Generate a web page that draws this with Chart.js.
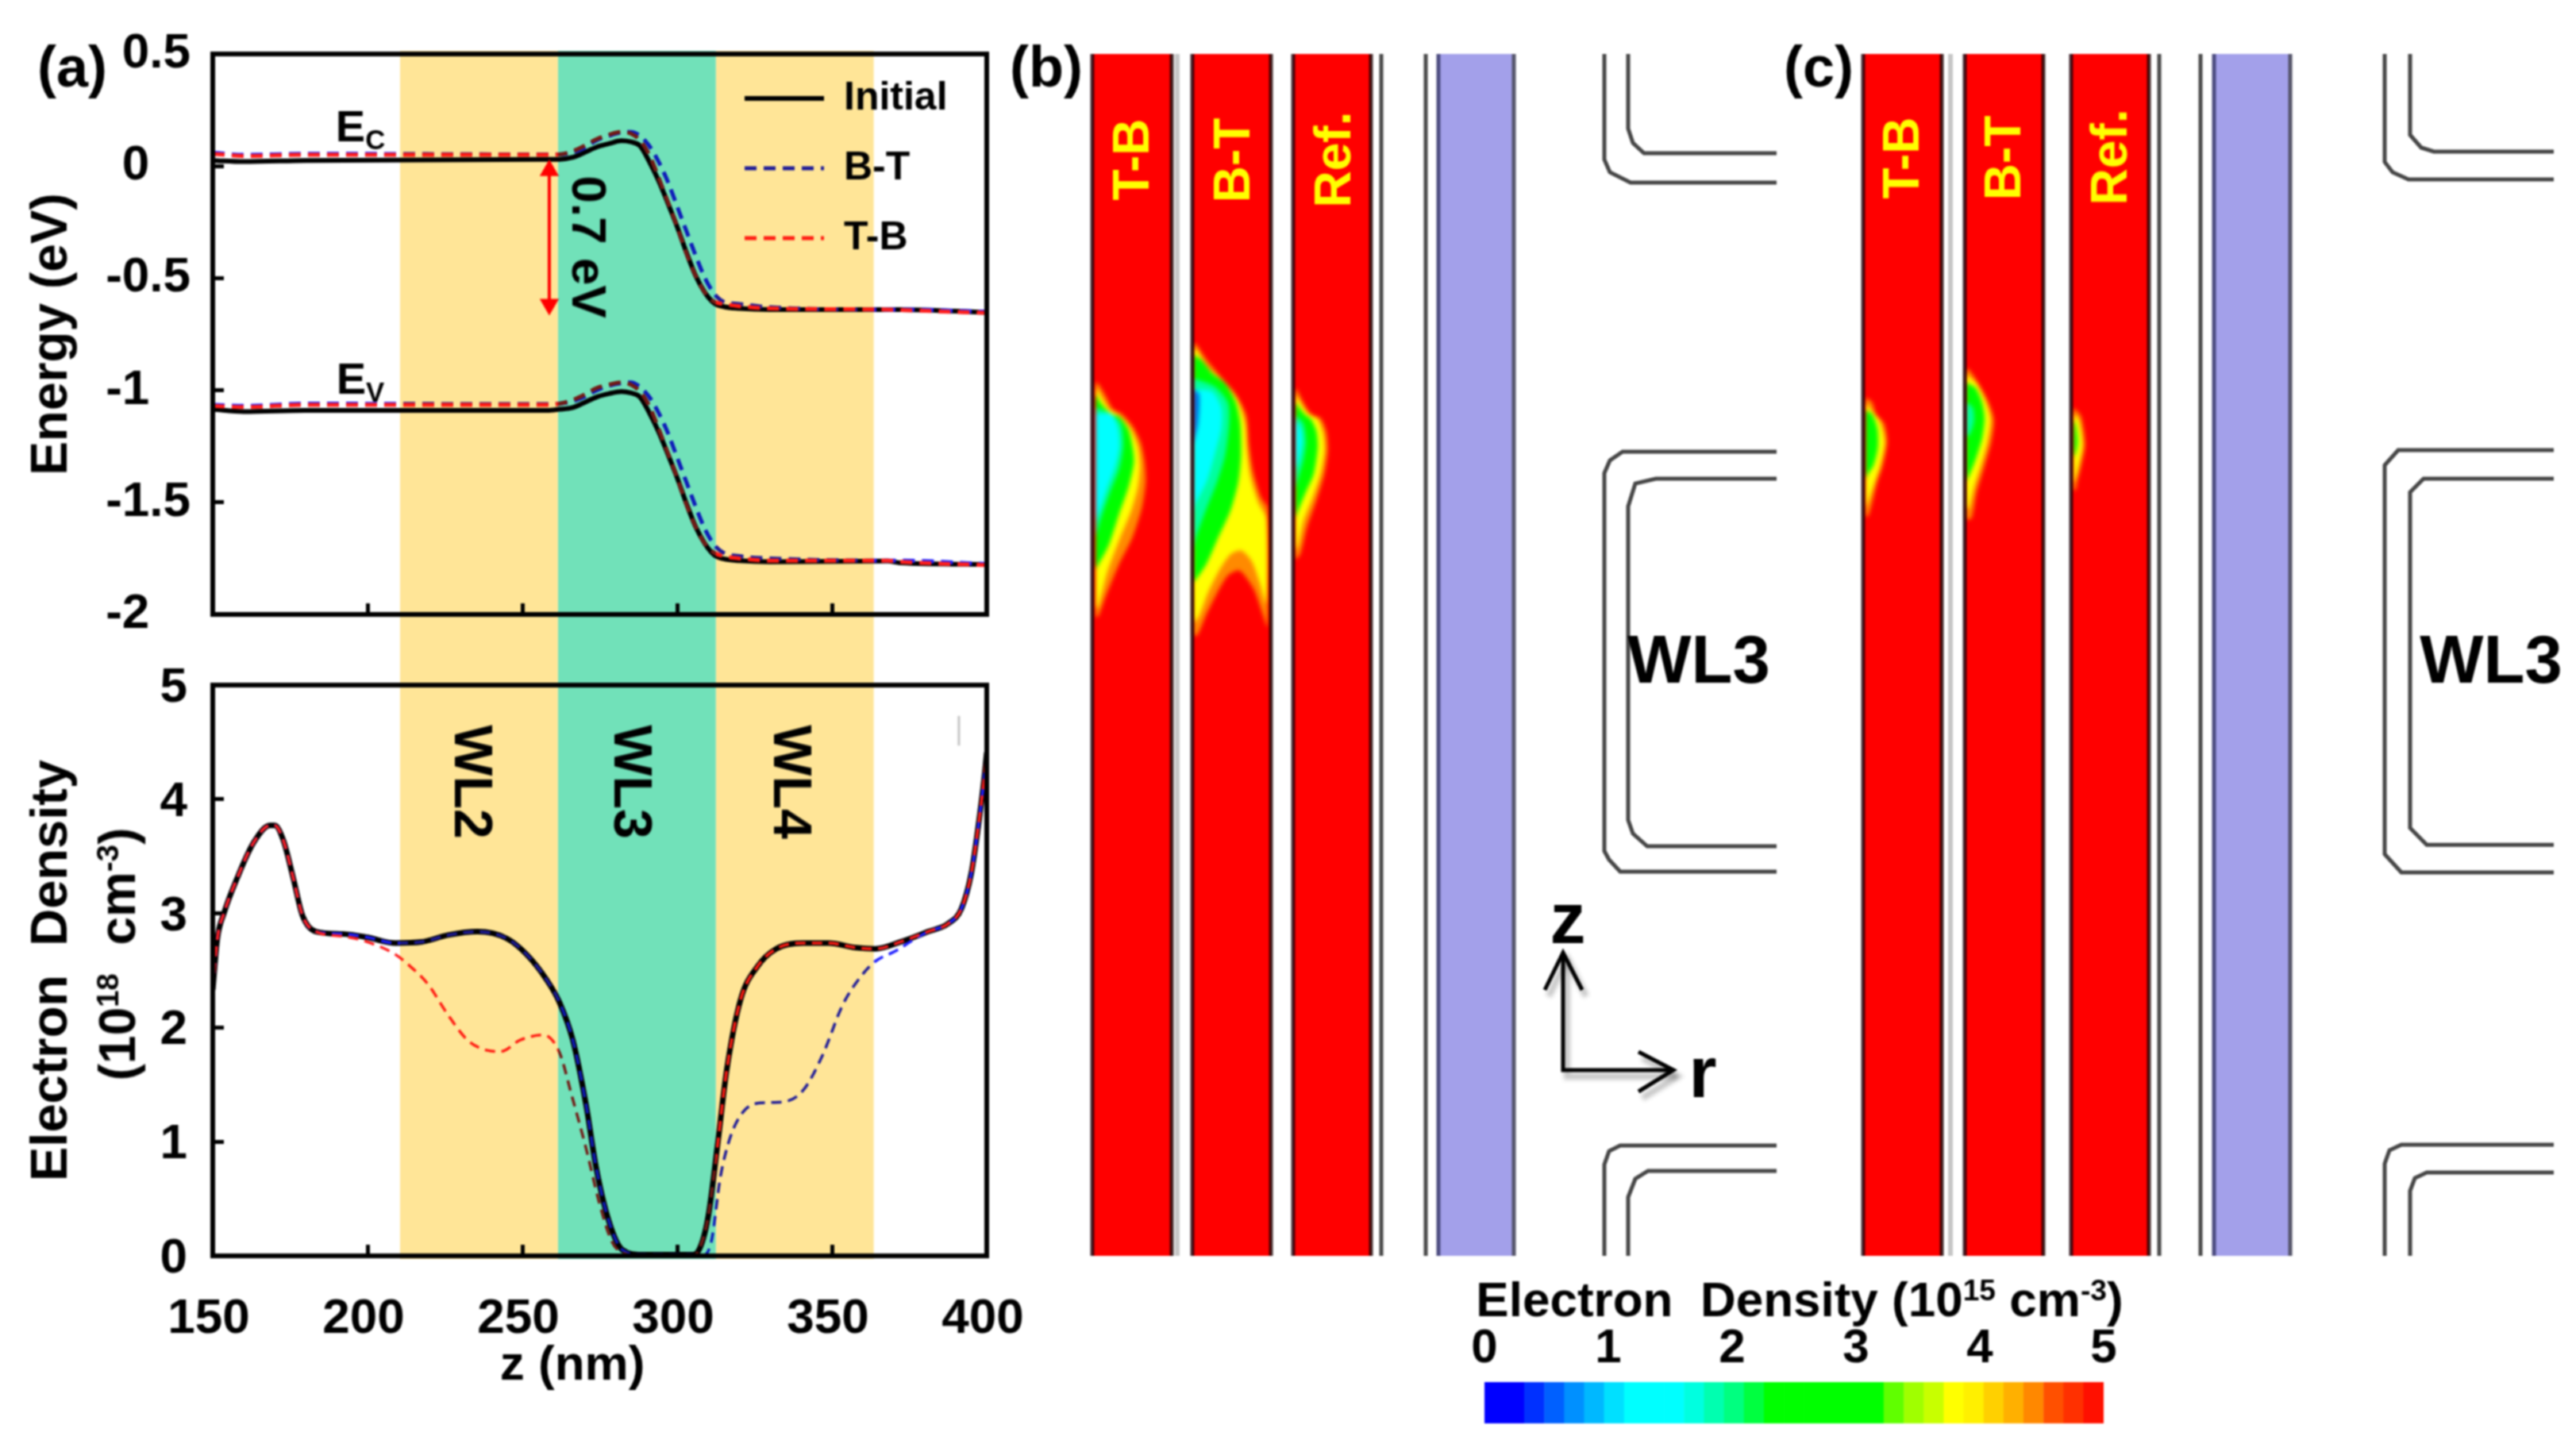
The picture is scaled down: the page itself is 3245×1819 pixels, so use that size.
<!DOCTYPE html>
<html><head><meta charset="utf-8">
<script src="https://cdn.jsdelivr.net/npm/chart.js@4"></script>
<style>
html,body{margin:0;padding:0;background:#fff}
#root{position:relative;width:3245px;height:1819px;background:#fff;overflow:hidden;filter:blur(1px)}
canvas{position:absolute;display:block}
#bands{mix-blend-mode:multiply;z-index:3}
.layer{left:0;top:0}
.soft{filter:blur(2.5px)}
.panel{position:absolute;top:68px;width:930px;height:1514px}
.note{position:absolute;white-space:nowrap;line-height:1;font-family:"Liberation Sans",Arial,sans-serif;font-weight:bold;color:#000;z-index:5;transform-origin:center}
.note sup{font-size:60%;line-height:0;vertical-align:0.55em}
.note sub{font-size:62%;line-height:0;vertical-align:-0.28em}
</style></head><body>
<div id="root">
<canvas id="energy" width="1300" height="800" style="left:0;top:0"></canvas>
<canvas id="density" width="1300" height="1019" style="left:0;top:800px"></canvas>
<canvas id="bands" width="1300" height="1819" style="left:0;top:0"></canvas>
<div class="panel" style="left:1330px">
 <canvas id="panelBbase" class="layer" width="930" height="1514"></canvas>
 <canvas id="panelBheat" class="layer soft" width="930" height="1514"></canvas>
 <canvas id="panelBtop" class="layer" width="930" height="1514"></canvas>
</div>
<div class="panel" style="left:2300px">
 <canvas id="panelCbase" class="layer" width="930" height="1514"></canvas>
 <canvas id="panelCheat" class="layer soft" width="930" height="1514"></canvas>
 <canvas id="panelCtop" class="layer" width="930" height="1514"></canvas>
</div>
<canvas id="scaleBar" width="920" height="160" style="left:1800px;top:1650px"></canvas>
</div>
<script>
// ---------- panel (a): energy ----------
const zEnergy = [150,160,180,258,262,266,270,274,278,282,285,288,291,294,297,300,303,306,309,312,315,320,330,368,372,400];
const ecInitial = [.025,.02,.025,.03,.03,.038,.06,.085,.10,.113,.108,.09,.02,-.065,-.165,-.27,-.385,-.49,-.565,-.612,-.627,-.635,-.64,-.64,-.64,-.653];
const ecBT = [.06,.05,.055,.052,.052,.06,.08,.115,.135,.15,.152,.135,.09,.02,-.07,-.18,-.29,-.40,-.50,-.57,-.605,-.615,-.63,-.64,-.64,-.65];
const ecTB = [.055,.045,.05,.05,.052,.065,.09,.12,.14,.152,.145,.115,.05,-.05,-.16,-.27,-.39,-.49,-.565,-.605,-.615,-.625,-.635,-.64,-.642,-.655];
const evInitial = [-1.085,-1.095,-1.09,-1.09,-1.085,-1.078,-1.055,-1.03,-1.015,-1.006,-1.012,-1.03,-1.10,-1.185,-1.285,-1.39,-1.505,-1.61,-1.685,-1.735,-1.752,-1.76,-1.765,-1.762,-1.77,-1.777];
const evBT = [-1.065,-1.07,-1.06,-1.062,-1.06,-1.05,-1.03,-1.0,-.98,-.968,-.965,-.985,-1.03,-1.10,-1.19,-1.30,-1.41,-1.52,-1.62,-1.69,-1.725,-1.74,-1.75,-1.76,-1.76,-1.775];
const evTB = [-1.07,-1.075,-1.065,-1.065,-1.06,-1.045,-1.02,-.99,-.975,-.965,-.975,-1.005,-1.07,-1.17,-1.28,-1.39,-1.51,-1.61,-1.685,-1.725,-1.74,-1.75,-1.76,-1.76,-1.765,-1.78];
const gapArrowZ = [258.7,258.7];
const gapArrowE = [-.02,-.617];
const legendNames = ["Initial","B-T","T-B"];

// ---------- panel (a): electron density ----------
const zInitial = [150,151.5,153.6,157.9,163.2,168.5,170,172.8,176,179,183.4,192,200,209,217.4,226,235.5,245,251.4,257.8,262,266.3,270.6,273.8,278,282.3,288.6,304.6,307,310,313,316,320.5,325.8,332,340.7,349,357.7,364,372.6,381,387.5,391.8,395,397,399.2,400];
const nInitial = [2.33,2.78,3.0,3.31,3.62,3.77,3.77,3.64,3.31,2.98,2.84,2.82,2.79,2.74,2.75,2.81,2.84,2.78,2.64,2.42,2.22,1.89,1.32,.78,.30,.053,.01,.01,.05,.34,.96,1.625,2.245,2.53,2.69,2.74,2.74,2.70,2.69,2.755,2.84,2.91,3.04,3.35,3.71,4.19,4.41];
const zTB = [150,151.5,153.6,157.9,163.2,168.5,170,172.8,176,179,183.4,192,200,209,213,219.5,226,232.3,238.7,243,249.3,256.7,262,266,270.6,274.8,279,283,288.6,304.6,307,310,313,316,320.5,325.8,332,340.7,349,357.7,364,372.6,381,387.5,391.8,395,397,399.2,400];
const nTB = [2.33,2.78,3.0,3.31,3.62,3.77,3.77,3.64,3.31,2.98,2.84,2.80,2.75,2.64,2.555,2.38,2.11,1.89,1.80,1.79,1.89,1.935,1.78,1.40,.94,.47,.12,.02,.0,.0,.05,.34,.96,1.625,2.245,2.53,2.69,2.74,2.74,2.70,2.69,2.755,2.84,2.91,3.04,3.35,3.71,4.19,4.41];
const zBT = [150,151.5,153.6,157.9,163.2,168.5,170,172.8,176,179,183.4,192,200,209,217.4,226,235.5,245,251.4,257.8,262,266.3,270.6,273.8,278,282.3,288.6,304.6,307.8,311,314,317.3,321.6,327,334.4,340.7,347,353.5,360,364,370.5,377,381,387.5,391.8,395,397,399.2,400];
const nBT = [2.33,2.78,3.0,3.31,3.62,3.77,3.77,3.64,3.31,2.98,2.84,2.82,2.79,2.74,2.75,2.81,2.84,2.78,2.64,2.42,2.22,1.89,1.32,.78,.30,.053,.01,.01,.0,.12,.695,1.05,1.27,1.34,1.35,1.45,1.76,2.2,2.47,2.58,2.67,2.78,2.84,2.91,3.04,3.35,3.71,4.19,4.41];
const strayZ = [391,391];
const strayN = [4.47,4.73];

// ---------- word-line bands ----------
const bandNames = ["WL2","WL3","WL4"];
const bandStart = [210.5,261.5,312.5];
const bandEnd = [261.5,312.5,363.5];

// ---------- panels (b),(c): device cross-section, r and z in device units ----------
const tcadLeft = { b:[[138,438],[516,813],[897,1191]], c:[[141,438],[525,822],[927,1221]] };
const thinLight = { b:[459], c:[471] };
const thinDark = { b:[1230,1398], c:[1260,1416] };
const blockColumn = { b:[1446,1731], c:[1467,1755] };
const zTop = -996, zBottom = 3546, rMax = 2790;

const gatesB = [
 [[2073,-996],[2073,-597],[2094,-549],[2172,-510],[2724,-510]],
 [[2163,-996],[2163,-714],[2181,-660],[2223,-621],[2724,-621]],
 [[2724,507],[2142,507],[2094,540],[2073,588],[2073,2016],[2091,2049],[2133,2094],[2724,2094]],
 [[2724,609],[2268,609],[2190,627],[2163,714],[2163,1899],[2181,1950],[2235,1998],[2724,1998]],
 [[2724,3129],[2133,3129],[2091,3150],[2073,3201],[2073,3546]],
 [[2724,3225],[2238,3225],[2190,3255],[2163,3324],[2163,3546]]
];
const gatesC = [
 [[2112,-996],[2112,-588],[2142,-549],[2202,-522],[2751,-522]],
 [[2208,-996],[2208,-690],[2250,-642],[2298,-627],[2751,-627]],
 [[2751,501],[2163,501],[2112,558],[2112,2028],[2175,2097],[2751,2097]],
 [[2751,609],[2259,609],[2208,660],[2208,1929],[2271,1993],[2751,1993]],
 [[2751,3126],[2175,3126],[2130,3147],[2112,3198],[2112,3546]],
 [[2751,3231],[2271,3231],[2226,3252],[2208,3300],[2208,3546]]
];
const axisShaft = [[1917,2400],[1917,2844],[2334,2844]];
const axisHeadZ = [[1848,2541],[1917,2400],[1989,2541]];
const axisHeadR = [[2202,2775],[2334,2844],[2202,2925]];

// contour levels of electron density (outermost first)
const levelColors = ["#FF8A00","#FFFF00","#00FF00","#00FFA0","#00FFFF","#0070E0"];
const contoursB = [
 // T-B
 [[[150,245],[160,250],[190,300],[215,345],[250,365],[290,410],[320,470],[335,540],[340,620],[325,720],[290,830],[240,930],[190,1050],[160,1130],[150,1130]],
  [[150,262],[200,345],[245,375],[285,425],[310,490],[318,560],[310,640],[285,730],[240,840],[195,960],[160,1090],[150,1100]],
  [[150,290],[175,330],[210,365],[240,375],[275,425],[292,500],[295,550],[275,640],[240,740],[200,860],[160,935],[150,950]],
  [[150,340],[205,362],[245,400],[255,480],[240,570],[205,660],[170,760],[150,830]],
  [[150,365],[210,365],[235,420],[240,490],[225,560],[195,640],[165,730],[150,770]]],
 // B-T
 [[[530,100],[570,160],[620,220],[680,290],[720,370],[730,480],[745,580],[775,680],[800,720],[800,1170],[785,1130],[750,1030],[710,970],[690,955],[650,975],[610,1040],[570,1120],[535,1200],[520,1200],[520,100]],
  [[530,120],[575,190],[625,235],[685,310],[715,400],[722,500],[735,600],[765,700],[795,760],[795,1080],[770,1000],[740,920],[700,880],[660,895],[615,960],[575,1040],[540,1130],[520,1150],[520,120]],
  [[520,140],[550,160],[590,210],[640,250],[680,320],[697,400],[700,520],[690,620],[660,730],[610,840],[570,930],[530,990],[520,1000]],
  [[520,230],[600,260],[650,320],[655,400],[640,520],[610,620],[570,720],[530,830],[520,880]],
  [[520,270],[590,280],[625,340],[625,420],[600,520],[570,620],[530,700],[520,740]],
  [[520,270],[542,290],[538,400],[520,480]]],
 // Ref.
 [[[910,270],[935,320],[965,365],[1000,380],[1022,430],[1028,500],[1015,590],[985,690],[950,790],[925,890],[912,910],[905,910],[905,270]],
  [[905,290],[950,360],[990,385],[1010,440],[1015,500],[1000,590],[970,680],[935,770],[915,860],[905,880]],
  [[905,320],[940,365],[965,385],[985,430],[990,490],[975,590],[945,660],[920,720],[905,760]],
  [[905,370],[935,400],[945,470],[935,540],[915,610],[905,650]],
  [[905,390],[925,420],[930,470],[915,550],[905,570]]]
];
const contoursC = [
 // T-B
 [[[155,305],[175,320],[190,365],[220,400],[232,470],[215,560],[195,620],[175,700],[160,750],[150,750],[150,305]],
  [[150,325],[175,355],[205,395],[222,470],[205,560],[185,620],[165,680],[150,720]],
  [[150,350],[175,365],[195,420],[197,490],[180,560],[160,590],[150,610]]],
 // B-T
 [[[540,195],[565,230],[610,310],[635,385],[625,470],[600,560],[570,660],[550,760],[530,760],[530,195]],
  [[530,215],[570,250],[605,320],[622,385],[610,470],[585,560],[560,640],[540,720],[530,720]],
  [[530,245],[565,265],[590,320],[600,380],[590,460],[565,540],[545,590],[530,620]],
  [[530,320],[555,340],[560,390],[545,440],[530,450]]],
 // Ref.
 [[[942,345],[965,375],[980,480],[965,560],[950,620],[945,650],[935,650],[935,345]],
  [[935,365],[955,385],[970,480],[955,560],[940,620],[935,620]],
  [[935,385],[945,410],[952,470],[945,510],[935,530]]]
];

// ---------- colour scale ----------
const scaleValues = [.081,.242,.403,.565,.726,.887,1.048,1.21,1.371,1.532,1.694,1.855,2.016,2.177,2.339,2.5,2.661,2.823,2.984,3.145,3.306,3.468,3.629,3.79,3.952,4.113,4.274,4.435,4.597,4.758,4.919];
const scaleColors = ["#0000FF","#0000FF","#0030FF","#0060FF","#0090FF","#00B8FF","#00E0FF","#00FFFF","#00FFFF","#00FFFF","#00FFE0","#00FFB0","#00FF80","#00FF40","#00FF00","#00FF00","#00FF00","#00FF00","#00FF00","#00FF00","#60FF00","#A0FF00","#C8FF00","#FFFF00","#FFF000","#FFD000","#FFB000","#FF8800","#FF5000","#FF3000","#FF1000"];

// ---------- text notes: [html, x, y, size, rotation, colour] ----------
const notes = [
 ["(a)",91,84,72,0],["(b)",1318,84,72,0],["(c)",2291,84,72,0],
 ["E<sub>C</sub>",454,159,56,0],["E<sub>V</sub>",454,477,56,0],
 ["0.7 eV",742,311,62,90],
 ["WL2",597,985,68,90],["WL3",798,985,68,90],["WL4",999,985,68,90],
 ["(10<sup>18</sup>&nbsp;&nbsp;cm<sup>-3</sup>)",148,1202,64,-90],
 ["T-B",1425,201,64,-90,"#FFFF00"],["B-T",1552,202,64,-90,"#FFFF00"],["Ref.",1679,201,64,-90,"#FFFF00"],
 ["T-B",2395,199,64,-90,"#FFFF00"],["B-T",2523,199,64,-90,"#FFFF00"],["Ref.",2657,198,64,-90,"#FFFF00"],
 ["WL3",2140,830,85,0],["WL3",3138,830,85,0],
 ["z",1975,1157,90,0],["r",2145,1351,90,0],
 ["Electron&nbsp;&nbsp;Density (10<sup>15</sup> cm<sup>-3</sup>)",2267,1637,62,0]
];

// ---------- shared setup ----------
Chart.defaults.font.family = '"Liberation Sans",Arial,sans-serif';
Chart.defaults.font.weight = 'bold';
Chart.defaults.color = '#000';
Chart.defaults.animation = false;
Chart.defaults.responsive = false;
Chart.defaults.events = [];
Chart.defaults.plugins.tooltip.enabled = false;
Chart.defaults.plugins.legend.display = false;
Chart.defaults.elements.point.radius = 0;

const zip = (xs,ys) => xs.map((x,i)=>({x,y:ys[i]}));
const pts = a => a.map(p=>({x:p[0],y:p[1]}));
const curve = (label,xs,ys,color,width,dash,order) => ({label,data:zip(xs,ys),showLine:true,fill:false,borderColor:color,backgroundColor:color,borderWidth:width,borderDash:dash||[],cubicInterpolationMode:'monotone',order});

const frame = (w) => ({id:'frame',afterDatasetsDraw(c){const a=c.chartArea,x=c.ctx;x.save();x.lineWidth=w;x.strokeStyle='#000';x.strokeRect(a.left,a.top,a.right-a.left,a.bottom-a.top);x.restore();}});
const RED='#FF1E1E',BLUE='#1E1EFF';
const noPad = s => {s.paddingLeft=s.paddingRight=s.paddingTop=s.paddingBottom=0;};
const whole = v => Number.isInteger(v);
const NB3 = '\u00a0\u00a0\u00a0';

const zAxis = (extra) => Object.assign({type:'linear',min:150,max:400,
  grid:{drawOnChartArea:false,drawTicks:true,tickLength:-14,tickWidth:5,tickColor:'#000'},border:{display:false}},extra);

// energy chart
new Chart(document.getElementById('energy'),{type:'scatter',
 data:{datasets:[
  curve(legendNames[0],zEnergy,ecInitial,'#000',6,[],6),
  curve(legendNames[1],zEnergy,ecBT,BLUE,5,[15,9],4),
  curve(legendNames[2],zEnergy,ecTB,RED,5,[15,9],2),
  curve('Ev initial',zEnergy,evInitial,'#000',6,[],5),
  curve('Ev B-T',zEnergy,evBT,BLUE,5,[15,9],3),
  curve('Ev T-B',zEnergy,evTB,RED,5,[15,9],1),
  {label:'0.7 eV',data:zip(gapArrowZ,gapArrowE),showLine:true,borderColor:'#FF0000',backgroundColor:'#FF0000',borderWidth:4,pointStyle:'triangle',pointRadius:14,pointRotation:[0,180],pointBorderWidth:0,order:0}
 ]},
 options:{layout:{autoPadding:false,padding:{top:68,right:57}},
  scales:{
   x:zAxis({position:'bottom',ticks:{stepSize:50,callback:()=>'',autoSkip:false},afterFit(s){s.height=26;noPad(s);}}),
   y:{type:'linear',min:-2,max:.5,position:'left',
     grid:{drawOnChartArea:false,drawTicks:true,tickLength:-14,tickWidth:5,tickColor:'#000'},border:{display:false},
     ticks:{stepSize:.5,autoSkip:false,padding:42,font:{size:62,weight:'bold'},callback:v=>whole(v)?v+NB3:''+v},
     title:{display:true,text:'Energy (eV)',font:{size:64,weight:'bold'},padding:{top:28,bottom:0}},
     afterFit(s){s.width=268;noPad(s);}}
  },
  plugins:{legend:{display:true,position:'chartArea',align:'start',fullSize:false,
    labels:{usePointStyle:true,pointStyleWidth:100,padding:38,font:{size:50,weight:'bold'},color:'#000',
      generateLabels:(c)=>[0,1,2].map(i=>{const d=c.data.datasets[i];return {text:d.label,strokeStyle:d.borderColor,fillStyle:d.borderColor,lineWidth:d.borderWidth,lineDash:d.borderDash,pointStyle:'line',datasetIndex:i,fontColor:'#000'};})}}}
 },
 plugins:[frame(6),{id:'placeLegend',afterLayout(c){const l=c.legend;l.left=900;l.right=1243;l.top=61;l.bottom=774;}}]
});

// density chart
new Chart(document.getElementById('density'),{type:'scatter',
 data:{datasets:[
  curve(legendNames[0],zInitial,nInitial,'#000',7,[],3),
  curve(legendNames[1],zBT,nBT,BLUE,3.5,[13,8],2),
  curve(legendNames[2],zTB,nTB,RED,3.5,[13,8],1),
  {label:'mark',data:zip(strayZ,strayN),showLine:true,borderColor:'#C4C4C4',borderWidth:3,order:4}
 ]},
 options:{layout:{autoPadding:false,padding:{top:63,right:57}},
  scales:{
   x:zAxis({position:'bottom',
     ticks:{stepSize:50,autoSkip:false,maxRotation:0,padding:57,labelOffset:-5,font:{size:62,weight:'bold'}},
     title:{display:true,text:'z (nm)\u00a0\u00a0\u00a0\u00a0',font:{size:62,weight:'bold'},padding:{top:0,bottom:61}},
     afterFit(s){s.height=237;noPad(s);}}),
   y:{type:'linear',min:0,max:5,position:'left',
     grid:{drawOnChartArea:false,drawTicks:true,tickLength:-14,tickWidth:5,tickColor:'#000'},border:{display:false},
     ticks:{stepSize:1,autoSkip:false,padding:46,labelOffset:4,font:{size:62,weight:'bold'}},
     title:{display:true,text:'Electron\u00a0\u00a0Density',font:{size:65,weight:'bold'},padding:{top:27,bottom:0}},
     afterFit(s){s.width=268;noPad(s);}}
  }},
 plugins:[frame(6)]
});

// bands overlay
new Chart(document.getElementById('bands'),{type:'scatter',
 data:{datasets:bandNames.map((n,i)=>({label:n,showLine:true,fill:'shape',borderWidth:0,
   backgroundColor:i===1?'#71E1B9':'#FFE597',
   data:zip([bandStart[i],bandStart[i],bandEnd[i],bandEnd[i]],[0,1,1,0])}))},
 options:{layout:{autoPadding:false,padding:{left:268,right:57,top:64,bottom:233}},
  scales:{x:{type:'linear',min:150,max:400,display:false},y:{type:'linear',min:0,max:1,display:false}}}
});

// device panels: base (channels) / contours (softened) / top (edges, gates)
const devScales = {x:{type:'linear',min:0,max:rMax,display:false},y:{type:'linear',min:zTop,max:zBottom,reverse:true,display:false}};
const rect=(a,b,color)=>({showLine:true,fill:'shape',borderWidth:0,backgroundColor:color,data:zip([a,a,b,b],[zTop,zBottom,zBottom,zTop])});
const vline=(r,color,w)=>({showLine:true,fill:false,borderColor:color,borderWidth:w,data:zip([r,r],[zTop,zBottom])});
const poly=(a,color,w)=>({showLine:true,fill:false,borderColor:color,borderWidth:w,data:pts(a)});
const shape=(a,color)=>({showLine:true,fill:'shape',borderWidth:0,backgroundColor:color,tension:.25,data:pts(a)});
const layerChart=(id,layers)=>new Chart(document.getElementById(id),{type:'scatter',data:{datasets:layers.slice().reverse()},
  options:{layout:{autoPadding:false,padding:0},scales:devScales}});
function devicePanel(id,key,gates,contours,softExtra,extra){
 const [bl,br]=blockColumn[key];
 layerChart(id+'base',[...thinLight[key].map(r=>vline(r,'#C6C6C6',6)),...tcadLeft[key].map(([a,b])=>rect(a,b,'#FF0000')),rect(bl,br,'#A3A0EA')]);
 const heat=[...softExtra]; contours.forEach(group=>group.forEach((c,j)=>heat.push(shape(c,levelColors[j]))));
 layerChart(id+'heat',heat);
 const top=[];
 tcadLeft[key].forEach(([a,b])=>top.push(vline(a,'rgba(30,0,10,.82)',5),vline(b,'rgba(30,0,0,.82)',5)));
 thinDark[key].forEach(r=>top.push(vline(r,'#4A4A4A',5)));
 top.push(vline(bl,'#4C4C80',5),vline(br,'#55556A',5));
 gates.forEach(g=>top.push(poly(g,'#454545',5)));
 extra.forEach(e=>top.push(e));
 layerChart(id+'top',top);
}
const shade=a=>a.map(p=>[p[0]+15,p[1]+24]);
const SH='rgba(0,0,0,.22)';
devicePanel('panelB','b',gatesB,contoursB,
  [poly(shade(axisShaft),SH,8),poly(shade(axisHeadZ),SH,8),poly(shade(axisHeadR),SH,8)],
  [poly(axisShaft,'#000',5),poly(axisHeadZ,'#000',5),poly(axisHeadR,'#000',5)]);
devicePanel('panelC','c',gatesC,contoursC,[],[]);

// colour scale
new Chart(document.getElementById('scaleBar'),{type:'bar',
 data:{datasets:[{label:'Electron Density',data:scaleValues.map(v=>({x:v,y:1})),backgroundColor:scaleColors,barPercentage:1,categoryPercentage:1,borderWidth:0}]},
 options:{layout:{autoPadding:false,padding:{left:70,right:70,bottom:17}},
  scales:{
   x:{type:'linear',position:'top',min:0,max:5,offset:false,grid:{display:false,drawTicks:false,offset:false},border:{display:false},
      ticks:{stepSize:1,autoSkip:false,maxRotation:0,padding:6,font:{size:60,weight:'bold'}},afterFit(s){s.height=91;noPad(s);}},
   y:{type:'linear',min:0,max:1,display:false}
  }}
});

// text notes
const root=document.getElementById('root');
notes.forEach(([html,x,y,size,rot,color])=>{
 const d=document.createElement('div');d.className='note';d.innerHTML=html;
 d.style.left=x+'px';d.style.top=y+'px';d.style.fontSize=size+'px';
 if(color)d.style.color=color;
 d.style.transform='translate(-50%,-50%) rotate('+rot+'deg)';
 root.appendChild(d);
});
</script>
</body></html>
